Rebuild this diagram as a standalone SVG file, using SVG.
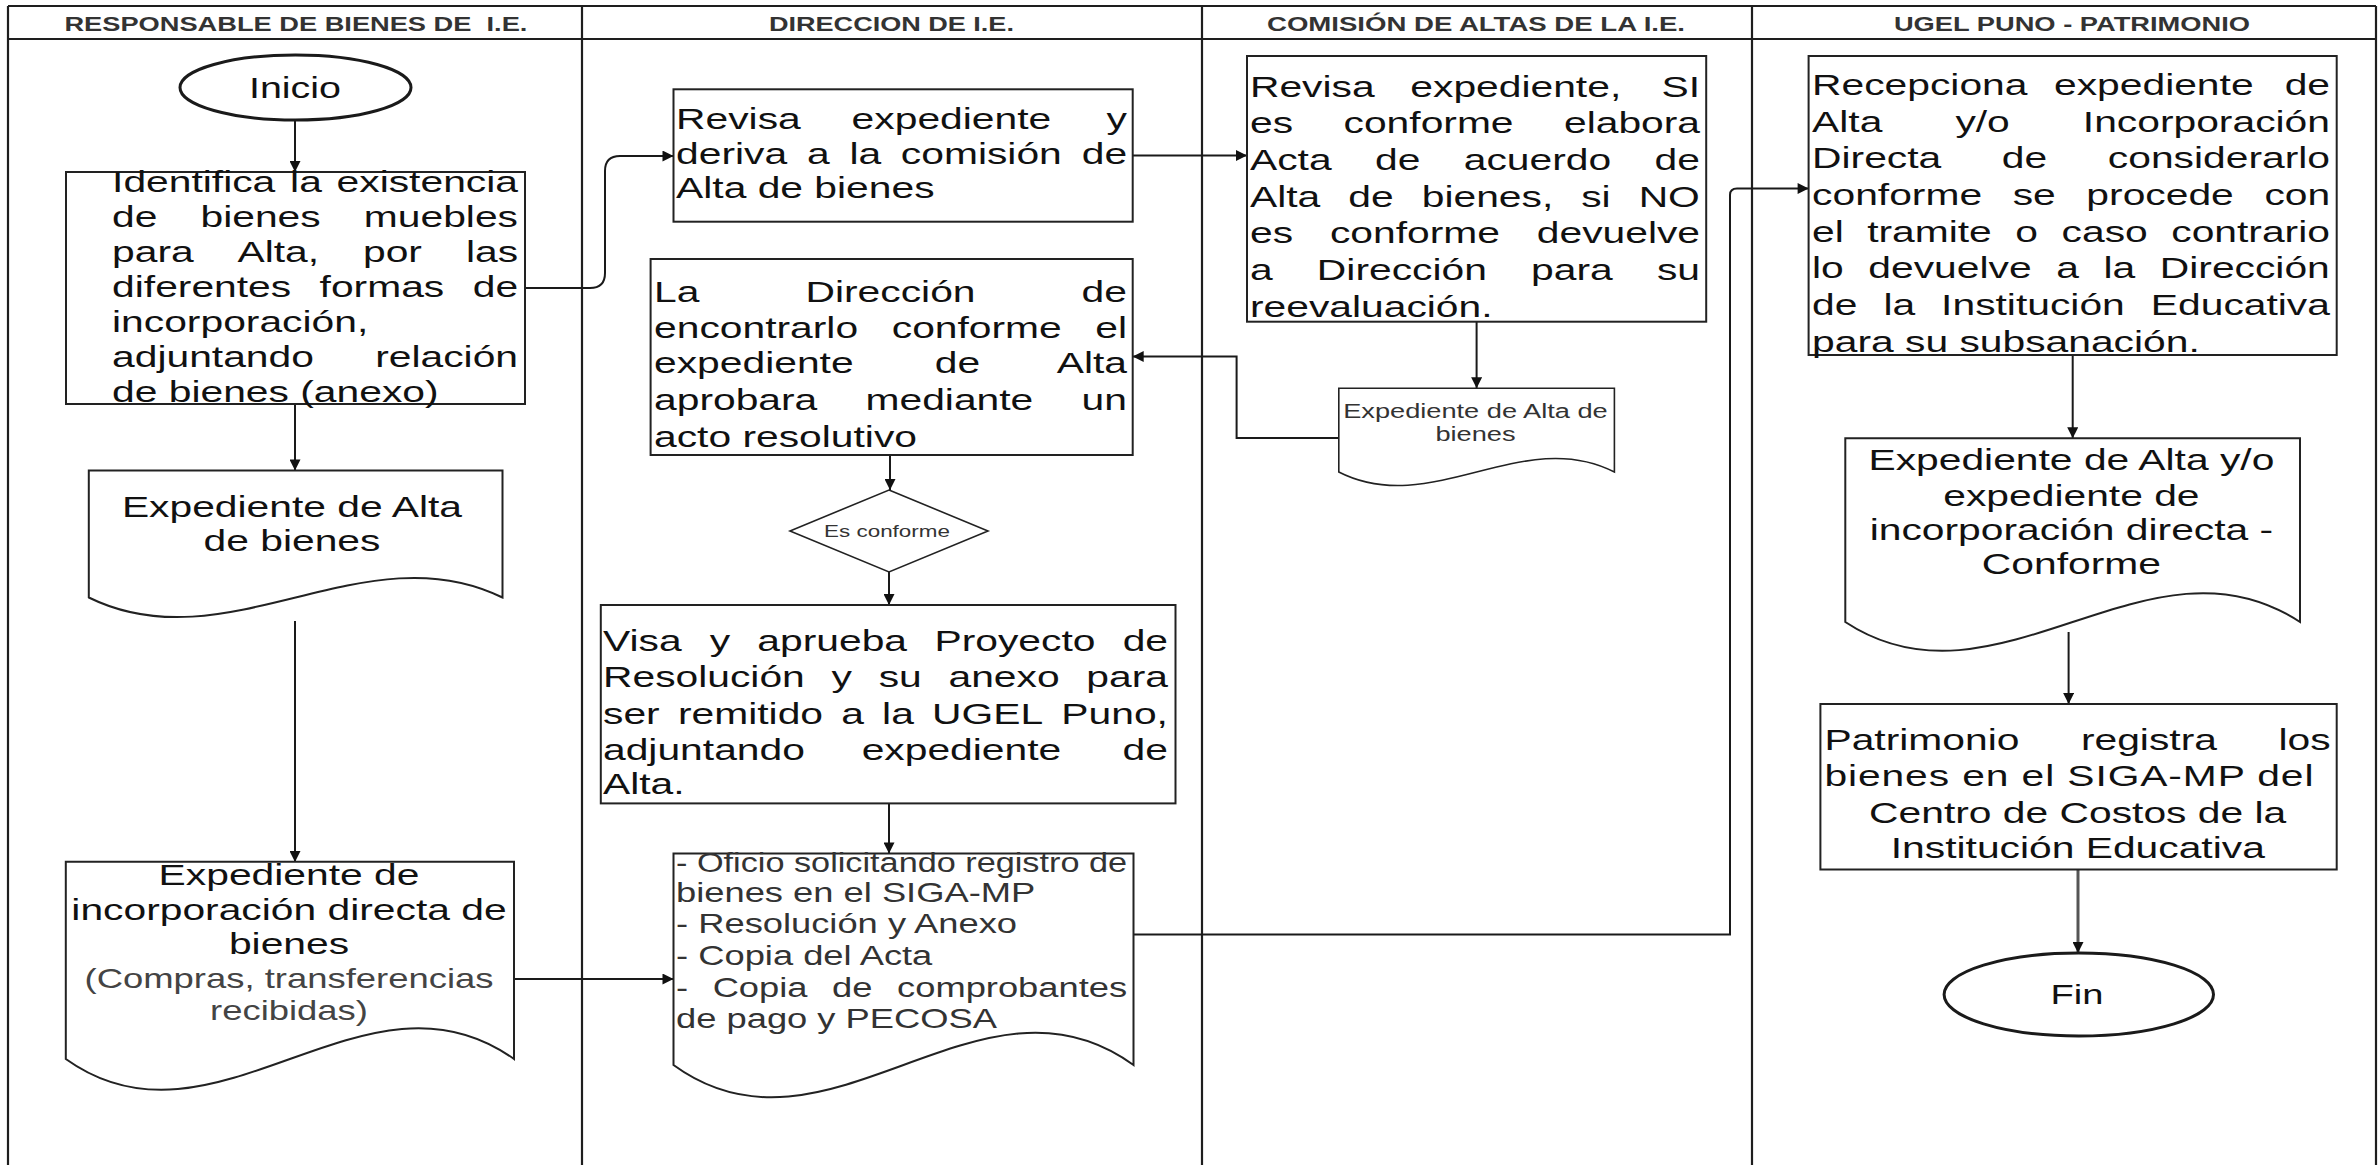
<svg xmlns="http://www.w3.org/2000/svg" width="2380" height="1165" viewBox="0 0 2380 1165">
<style>
.frame{stroke:#1e1e1e;stroke-width:2.2;fill:none}
.box{fill:#fff;stroke:#222;stroke-width:2}
.term{fill:#fff;stroke:#1a1a1a;stroke-width:3}
.ln{stroke:#1a1a1a;stroke-width:2;fill:none}
.t{font-family:"Liberation Sans",Arial,Helvetica,sans-serif;font-size:30px;fill:#111;transform:scale(1.36,1);transform-origin:0 0;transform-box:view-box}
.hd{font-size:20px;font-weight:bold;fill:#333;text-anchor:middle}
.c{text-anchor:middle}
.s{font-size:26.7px;fill:#333}
.g{font-size:26.8px;fill:#444}
.sm{font-size:20px;fill:#333}
.xs{font-size:16.5px;fill:#333}
</style>
<defs>
<marker id="ah" viewBox="0 0 10 10" refX="10" refY="5" markerWidth="12" markerHeight="11" markerUnits="userSpaceOnUse" orient="auto">
<path d="M0,0 L10,5 L0,10 z" fill="#111"/>
</marker>
</defs>
<rect width="2380" height="1165" fill="#fff"/>

<g id="lanes">
<path class="frame" d="M8,6 H2376 M8,39 H2376 M8,6 V1165 M582,6 V1165 M1202,6 V1165 M1752,6 V1165 M2376,6 V1165"/>
<text class="t hd" x="217.6" y="31" textLength="340.4" lengthAdjust="spacingAndGlyphs" xml:space="preserve">RESPONSABLE DE BIENES DE  I.E.</text>
<text class="t hd" x="655.5" y="31" textLength="180.1" lengthAdjust="spacingAndGlyphs">DIRECCION DE I.E.</text>
<text class="t hd" x="1085.3" y="31" textLength="307.4" lengthAdjust="spacingAndGlyphs">COMISIÓN DE ALTAS DE LA I.E.</text>
<text class="t hd" x="1523.5" y="31" textLength="261.8" lengthAdjust="spacingAndGlyphs">UGEL PUNO - PATRIMONIO</text>
</g>

<g id="connectors">
<path class="ln" marker-end="url(#ah)" d="M295,120 V172"/>
<path class="ln" marker-end="url(#ah)" d="M295,404 V470.5"/>
<path class="ln" marker-end="url(#ah)" d="M295,621 V862"/>
<path class="ln" marker-end="url(#ah)" d="M514,979 H673.5"/>
<path class="ln" marker-end="url(#ah)" d="M525,288 H590 Q605,288 605,273 V171 Q605,156 620,156 H673.5"/>
<path class="ln" marker-end="url(#ah)" d="M1132.7,155.5 H1247"/>
<path class="ln" marker-end="url(#ah)" d="M1476.6,321.7 V388.3"/>
<path class="ln" marker-end="url(#ah)" d="M1338.8,438 H1236.6 V356.5 H1132.7"/>
<path class="ln" marker-end="url(#ah)" d="M890,455 V490"/>
<path class="ln" marker-end="url(#ah)" d="M889,572 V605"/>
<path class="ln" marker-end="url(#ah)" d="M889,803.4 V853.6"/>
<path class="ln" marker-end="url(#ah)" d="M1133.5,934.5 H1730 V195 Q1730,188.5 1737,188.5 H1808.6"/>
<path class="ln" marker-end="url(#ah)" d="M2072.7,355 V438.3"/>
<path class="ln" marker-end="url(#ah)" d="M2068.6,632 V704"/>
<path class="ln" marker-end="url(#ah)" d="M2078,869.5 V953" style="stroke:#555;stroke-width:3"/>
</g>

<g id="inicio">
<ellipse class="term" cx="295.5" cy="87.5" rx="115.5" ry="32.5"/>
<text class="t c" x="216.9" y="98" style="font-size:29px">Inicio</text>
</g>

<g id="identifica">
<rect class="box" x="66" y="172" width="459" height="232"/>
<text class="t" y="191.7"><tspan x="82.4">Identifica</tspan> <tspan x="213.3">la</tspan> <tspan x="247.5">existencia</tspan></text>
<text class="t" y="226.7"><tspan x="82.4">de</tspan> <tspan x="147.4">bienes</tspan> <tspan x="267.5">muebles</tspan></text>
<text class="t" y="261.7"><tspan x="82.4">para</tspan> <tspan x="174.6">Alta,</tspan> <tspan x="266.9">por</tspan> <tspan x="342.6">las</tspan></text>
<text class="t" y="296.7"><tspan x="82.4">diferentes</tspan> <tspan x="235">formas</tspan> <tspan x="347.6">de</tspan></text>
<text class="t" x="82.4" y="331.7">incorporación,</text>
<text class="t" y="366.7"><tspan x="82.4">adjuntando</tspan> <tspan x="275.9">relación</tspan></text>
<text class="t" x="82.4" y="401.7">de bienes (anexo)</text>
</g>

<g id="doc-alta">
<path class="box" d="M88.8,470.5 H502.5 V597.5 C364.6,529.5 226.7,665.5 88.8,597.5 Z"/>
<text class="t c" x="214.7" y="517.5">Expediente de Alta</text>
<text class="t c" x="214.7" y="551">de bienes</text>
</g>

<g id="doc-incorporacion">
<path class="box" d="M65.8,861.8 H514 V1059 C364.6,952 215.2,1166 65.8,1059 Z"/>
<text class="t c" x="212.5" y="885.5">Expediente de</text>
<text class="t c" x="212.5" y="919.7">incorporación directa de</text>
<text class="t c" x="212.5" y="953.9">bienes</text>
<text class="t c g" x="212.5" y="988.1">(Compras, transferencias</text>
<text class="t c g" x="212.5" y="1020">recibidas)</text>
</g>

<g id="revisa-direccion">
<rect class="box" x="673.5" y="89.3" width="459.2" height="132.4"/>
<text class="t" y="129.3"><tspan x="497.1">Revisa</tspan> <tspan x="626.2">expediente</tspan> <tspan x="813.7">y</tspan></text>
<text class="t" y="164"><tspan x="497.1">deriva</tspan> <tspan x="593.3">a</tspan> <tspan x="624.6">la</tspan> <tspan x="662.4">comisión</tspan> <tspan x="795.4">de</tspan></text>
<text class="t" x="497.1" y="198.3">Alta de bienes</text>
</g>

<g id="la-direccion">
<rect class="box" x="650.6" y="259" width="482.1" height="196"/>
<text class="t" y="301.7"><tspan x="480.9">La</tspan> <tspan x="592.3">Dirección</tspan> <tspan x="795.3">de</tspan></text>
<text class="t" y="337.7"><tspan x="480.9">encontrarlo</tspan> <tspan x="655.7">conforme</tspan> <tspan x="805.4">el</tspan></text>
<text class="t" y="373.3"><tspan x="480.9">expediente</tspan> <tspan x="687.3">de</tspan> <tspan x="777">Alta</tspan></text>
<text class="t" y="410"><tspan x="480.9">aprobara</tspan> <tspan x="636.4">mediante</tspan> <tspan x="795.3">un</tspan></text>
<text class="t" x="480.9" y="446.7">acto resolutivo</text>
</g>

<g id="es-conforme">
<polygon class="box" points="889,490 988,531 889,572 790,531" style="stroke-width:1.6"/>
<text class="t c xs" x="652.2" y="537">Es conforme</text>
</g>

<g id="visa">
<rect class="box" x="600.8" y="605" width="574.7" height="198.4"/>
<text class="t" y="650.6"><tspan x="443.4">Visa</tspan> <tspan x="521.8">y</tspan> <tspan x="556.9">aprueba</tspan> <tspan x="687.1">Proyecto</tspan> <tspan x="825.5">de</tspan></text>
<text class="t" y="687.1"><tspan x="443.4">Resolución</tspan> <tspan x="611.4">y</tspan> <tspan x="646.1">su</tspan> <tspan x="697.4">anexo</tspan> <tspan x="798.8">para</tspan></text>
<text class="t" y="723.6"><tspan x="443.4">ser</tspan> <tspan x="498.5">remitido</tspan> <tspan x="618.5">a</tspan> <tspan x="648.6">la</tspan> <tspan x="685.3">UGEL</tspan> <tspan x="780.4">Puno,</tspan></text>
<text class="t" y="760.1"><tspan x="443.4">adjuntando</tspan> <tspan x="633.6">expediente</tspan> <tspan x="825.4">de</tspan></text>
<text class="t" x="443.4" y="794.3">Alta.</text>
</g>

<g id="oficio">
<path class="box" d="M673.5,853.6 H1133.5 V1065 C980.2,953 826.8,1177 673.5,1065 Z"/>
<text class="t s" x="497.1" y="871.8" textLength="331.6" lengthAdjust="spacingAndGlyphs">- Oficio solicitando registro de</text>
<text class="t s" x="497.1" y="902.3">bienes en el SIGA-MP</text>
<text class="t s" x="497.1" y="933.4">- Resolución y Anexo</text>
<text class="t s" x="497.1" y="965.3">- Copia del Acta</text>
<text class="t s" y="997.2"><tspan x="497.1">-</tspan>  <tspan x="524">Copia</tspan> <tspan x="611.8">de</tspan> <tspan x="659.6">comprobantes</tspan></text>
<text class="t s" x="497.1" y="1028.2">de pago y PECOSA</text>
</g>

<g id="comision">
<rect class="box" x="1247" y="56" width="459.2" height="265.7"/>
<text class="t" y="96.7"><tspan x="919.1">Revisa</tspan> <tspan x="1037">expediente,</tspan> <tspan x="1221.7">SI</tspan></text>
<text class="t" y="133.3"><tspan x="919.1">es</tspan> <tspan x="987.9">conforme</tspan> <tspan x="1150">elabora</tspan></text>
<text class="t" y="170"><tspan x="919.1">Acta</tspan> <tspan x="1011">de</tspan> <tspan x="1076.3">acuerdo</tspan> <tspan x="1216.6">de</tspan></text>
<text class="t" y="206.7"><tspan x="919.1">Alta</tspan> <tspan x="991.4">de</tspan> <tspan x="1045.4">bienes,</tspan> <tspan x="1162.6">si</tspan> <tspan x="1204.9">NO</tspan></text>
<text class="t" y="243.3"><tspan x="919.1">es</tspan> <tspan x="977.9">conforme</tspan> <tspan x="1130">devuelve</tspan></text>
<text class="t" y="280"><tspan x="919.1">a</tspan> <tspan x="968.3">Dirección</tspan> <tspan x="1125.8">para</tspan> <tspan x="1218.3">su</tspan></text>
<text class="t" x="919.1" y="316.7">reevaluación.</text>
</g>

<g id="doc-comision">
<path class="box" d="M1338.8,388.3 H1614.4 V472 C1522.5,425 1430.7,519 1338.8,472 Z" style="stroke-width:1.6"/>
<text class="t c sm" x="1084.9" y="418.3">Expediente de Alta de</text>
<text class="t c sm" x="1084.9" y="440.7">bienes</text>
</g>

<g id="recepciona">
<rect class="box" x="1808.6" y="56" width="528.1" height="299"/>
<text class="t" y="95"><tspan x="1332.4">Recepciona</tspan> <tspan x="1510.3">expediente</tspan> <tspan x="1679.9">de</tspan></text>
<text class="t" y="131.7"><tspan x="1332.4">Alta</tspan> <tspan x="1437.8">y/o</tspan> <tspan x="1531.5">Incorporación</tspan></text>
<text class="t" y="168.3"><tspan x="1332.4">Directa</tspan> <tspan x="1471.9">de</tspan> <tspan x="1549.9">considerarlo</tspan></text>
<text class="t" y="205"><tspan x="1332.4">conforme</tspan> <tspan x="1479.9">se</tspan> <tspan x="1534.1">procede</tspan> <tspan x="1665">con</tspan></text>
<text class="t" y="241.7"><tspan x="1332.4">el</tspan> <tspan x="1372.9">tramite</tspan> <tspan x="1481.9">o</tspan> <tspan x="1515.9">caso</tspan> <tspan x="1596.5">contrario</tspan></text>
<text class="t" y="278.3"><tspan x="1332.4">lo</tspan> <tspan x="1373.8">devuelve</tspan> <tspan x="1511.9">a</tspan> <tspan x="1546.7">la</tspan> <tspan x="1588.1">Dirección</tspan></text>
<text class="t" y="315"><tspan x="1332.4">de</tspan> <tspan x="1384.9">la</tspan> <tspan x="1427.3">Institución</tspan> <tspan x="1581.5">Educativa</tspan></text>
<text class="t" x="1332.4" y="351.7">para su subsanación.</text>
</g>

<g id="doc-ugel">
<path class="box" d="M1845.3,438.3 H2300 V622 C2148.4,522 1996.9,722 1845.3,622 Z"/>
<text class="t c" x="1523.1" y="470.5">Expediente de Alta y/o</text>
<text class="t c" x="1523.1" y="505.6">expediente de</text>
<text class="t c" x="1523.1" y="540.3">incorporación directa -</text>
<text class="t c" x="1523.1" y="574">Conforme</text>
</g>

<g id="patrimonio">
<rect class="box" x="1820.4" y="704" width="516.3" height="165.5"/>
<text class="t" y="750"><tspan x="1341.5">Patrimonio</tspan> <tspan x="1530.1">registra</tspan> <tspan x="1675.4">los</tspan></text>
<text class="t" x="1341.5" y="786" textLength="359.6" lengthAdjust="spacing">bienes en el SIGA-MP del</text>
<text class="t c" x="1527.7" y="823">Centro de Costos de la</text>
<text class="t c" x="1527.8" y="858.1">Institución Educativa</text>
</g>

<g id="fin">
<ellipse class="term" cx="2078.8" cy="994.5" rx="134.7" ry="41.5"/>
<text class="t c" x="1527.2" y="1004" style="font-size:28px">Fin</text>
</g>
</svg>
